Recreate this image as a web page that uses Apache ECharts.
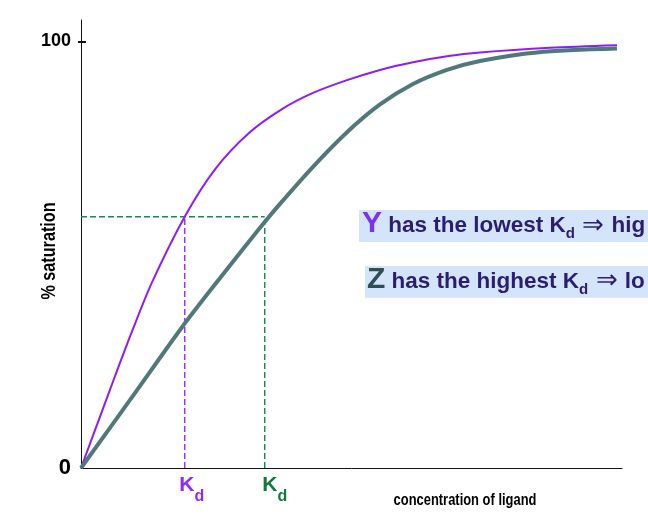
<!DOCTYPE html>
<html><head><meta charset="utf-8">
<script src="https://cdn.jsdelivr.net/npm/echarts@6/dist/echarts.min.js"></script>
<style>html,body{margin:0;padding:0;background:#fff}#c{width:648px;height:522px}</style>
</head><body><div id="c"></div>
<script>
// ---- data ----
const curveYX = [0, 3.33, 6.28, 9.43, 13.12, 19.17, 24.77, 31.05, 37.15, 42.88, 49.17, 55.27, 61.37, 67.65, 73.75, 86.69, 99.07];
const curveYV = [0, 11.4, 21.5, 32.0, 43.5, 58.9, 70.0, 78.5, 84.1, 87.9, 90.9, 93.3, 95.1, 96.5, 97.4, 98.5, 99.1];
const curveZX = [0, 9.43, 18.67, 26, 32.9, 36.78, 42.88, 49.17, 55.27, 61.37, 67.65, 73.75, 84.29, 99.07];
const curveZV = [0, 16.6, 33.0, 45.0, 56.0, 61.9, 70.6, 78.7, 85.2, 90.0, 93.3, 95.4, 97.4, 98.3];
const kdValues = [19.17, 33.96];
const kdLevel = 58.9;
const yLabelValues = [0, 100];
const yTickValues = [100];

// ---- style ----
const sans = "'Liberation Sans',Arial,sans-serif";
const purple = '#8c1cff', gray = '#52797a', dashGreen = '#1f8a4e', dashPurple = '#9b30ff';
const kdPurple = '#9426ff', kdGreen = '#0f7a3b';
const navy = '#2b1d72', boxBg = '#d4e5fb';

const zip = (xs, vs) => xs.map((x, i) => [x, vs[i]]);

const chart = echarts.init(document.getElementById('c'), null, {renderer: 'canvas'});

const kdRich = (color) => ({
  k: {fontFamily: sans, fontWeight: 'bold', fontSize: 21, lineHeight: 21, color: color, verticalAlign: 'bottom', padding: [0, 0, 8.3, 0]},
  d: {fontFamily: sans, fontWeight: 'bold', fontSize: 16, lineHeight: 16, color: color, verticalAlign: 'bottom', padding: [0, 0, 0, 0]}
});

const boxRich = (letterColor) => ({
  L: {fontFamily: sans, fontWeight: 'bold', fontSize: 30, lineHeight: 30, fill: letterColor, verticalAlign: 'bottom', padding: [0, 0, 3.1, 0]},
  t: {fontFamily: sans, fontWeight: 'bold', fontSize: 22.5, lineHeight: 22, fill: navy, verticalAlign: 'bottom', padding: [0, 0, 4.3, 0]},
  s: {fontFamily: sans, fontWeight: 'bold', fontSize: 15, lineHeight: 15, fill: navy, verticalAlign: 'bottom', padding: [0, 0, 0.3, 0]},
  a: {fontFamily: sans, fontWeight: 'normal', fontSize: 26, lineHeight: 26, fill: navy, verticalAlign: 'bottom', padding: [0, 1, 3.4, 1]}
});

const dashed = (data, color) => ({
  type: 'line', data: data, symbol: 'none', silent: true, z: 1,
  lineStyle: {color: color, width: 1.5, type: [6, 3]}
});

const kdSeries = (value, color, dx) => ({
  type: 'scatter', data: [[value, 0]], symbolSize: 0, silent: true, z: 5,
  itemStyle: {opacity: 1},
  label: {show: true, opacity: 1, position: 'bottom', distance: 15.5, offset: [dx, 0], formatter: '{k|K}{d|d}', rich: kdRich(color)}
});

const option = {
  animation: false,
  grid: {left: 81, right: 26, top: 20, bottom: 54},
  xAxis: {
    type: 'value', min: 0, max: 100,
    axisLine: {show: true, lineStyle: {color: '#111', width: 1}},
    axisTick: {show: false}, axisLabel: {show: false}, splitLine: {show: false}
  },
  yAxis: [{
    type: 'value', min: 0, max: 105, interval: 100,
    axisLine: {show: true, lineStyle: {color: '#111', width: 1}},
    axisTick: {show: true, customValues: yTickValues, length: 3, lineStyle: {color: '#111', width: 2}},
    axisLabel: {
      customValues: yLabelValues, margin: 10,
      formatter: v => v === 100 ? '{a|100}' : '{b|0}',
      rich: {
        a: {fontFamily: sans, fontWeight: 'bold', fontSize: 18, color: '#000'},
        b: {fontFamily: sans, fontWeight: 'bold', fontSize: 22, color: '#000'}
      }
    },
    splitLine: {show: false}
  }, {
    type: 'value', min: 0, max: 105, interval: 100, position: 'left',
    axisLine: {show: false},
    axisTick: {show: true, inside: true, customValues: yTickValues, length: 5, lineStyle: {color: '#111', width: 2}},
    axisLabel: {show: false}, splitLine: {show: false}
  }],
  series: [
    dashed([[0, kdLevel], [kdValues[1], kdLevel]], dashGreen),
    dashed([[kdValues[0], 0], [kdValues[0], kdLevel]], dashPurple),
    dashed([[kdValues[1], 0], [kdValues[1], kdLevel]], dashGreen),
    {type: 'line', name: 'Y', data: zip(curveYX, curveYV), symbol: 'none', smooth: 0.3, z: 3,
     lineStyle: {color: purple, width: 2}},
    {type: 'line', name: 'Z', data: zip(curveZX, curveZV), symbol: 'none', smooth: 0.3, z: 4,
     lineStyle: {color: gray, width: 4}},
    kdSeries(kdValues[0], kdPurple, 7),
    kdSeries(kdValues[1], kdGreen, 10)
  ],
  graphic: [
    {type: 'text', x: 49.5, y: 251, rotation: Math.PI / 2, scaleX: 0.81, silent: true,
     style: {text: '% saturation', fontFamily: sans, fontWeight: 'bold', fontSize: 20, fill: '#000', align: 'center', verticalAlign: 'middle'}},
    {type: 'text', x: 465, y: 500, scaleX: 0.76, silent: true,
     style: {text: 'concentration of ligand', fontFamily: sans, fontWeight: 'bold', fontSize: 17, fill: '#000', align: 'center', verticalAlign: 'middle'}},
    {type: 'text', x: 359, y: 210, silent: true,
     style: {text: '{L|Y}{t| has the lowest K}{s|d}{t| }{a|⇒}{t| hig}', rich: boxRich('#7b2ff7'),
             backgroundColor: boxBg, padding: [2, 8, 0, 3]}},
    {type: 'text', x: 365, y: 266, silent: true,
     style: {text: '{L|Z}{t| has the highest K}{s|d}{t| }{a|⇒}{t| lo}', rich: boxRich('#2f4e58'),
             backgroundColor: boxBg, padding: [1.7, 8, 0, 2]}}
  ]
};
chart.setOption(option);
</script>
</body></html>
